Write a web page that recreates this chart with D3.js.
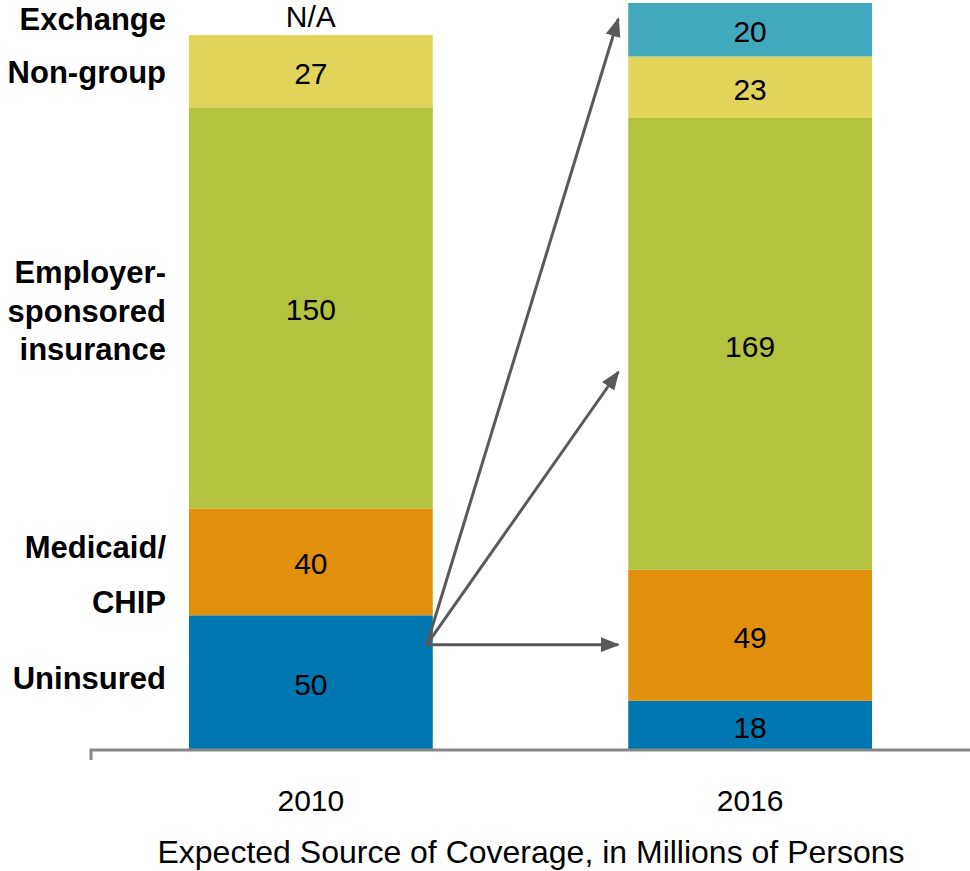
<!DOCTYPE html>
<html>
<meta charset="utf-8">
<style>
body {
  margin: 0;
  font-family: Arial, "Liberation Sans", Helvetica, sans-serif;
  background: #fff;
}
svg { display: block; }
text { font-family: Arial, "Liberation Sans", Helvetica, sans-serif; }
.seg-label { font-size: 30px; fill: #000; text-anchor: middle; }
.cat-label { font-size: 31px; font-weight: bold; fill: #000; text-anchor: end; }
.tick-label { font-size: 30px; fill: #000; text-anchor: middle; }
.title { font-size: 32px; fill: #000; text-anchor: middle; }
</style>
<body>
<script src="https://cdn.jsdelivr.net/npm/d3@7"></script>
<script>
// data
var years = ["2010", "2016"];
var sources = ["Uninsured", "Medicaid/CHIP", "Employer-sponsored insurance", "Non-group", "Exchange"];
var values2010 = [50, 40, 150, 27, 0];
var values2016 = [18, 49, 169, 23, 20];
var colors = ["#0077B0", "#E0900C", "#B3C340", "#E0D55A", "#42A8BE"];
// arrows: from 2010 uninsured (value level) to 2016 value levels
var arrowFrom = 39;
var arrowTo = [273, 141, 39];

var width = 970, height = 871;
var baseY = 749, topY = 3;

var svg = d3.select("body").append("svg")
    .attr("width", width)
    .attr("height", height);

var x = d3.scaleBand()
    .domain(years)
    .range([91, 970])
    .paddingInner(0.445)
    .paddingOuter(0.223);

var y = d3.scaleLinear()
    .domain([0, d3.sum(values2016)])
    .range([baseY, topY]);

var table = [values2010, values2016];
var stacked = years.map(function(yr, i) {
  var acc = 0;
  return table[i].map(function(v, j) {
    var s = {year: yr, name: sources[j], value: v, y0: acc, y1: acc + v, color: colors[j]};
    acc += v;
    return s;
  }).filter(function(s) { return s.value > 0; });
});
var segs = d3.merge(stacked);

// bars
svg.append("g").selectAll("rect")
    .data(segs)
    .enter().append("rect")
    .attr("x", function(d) { return x(d.year); })
    .attr("y", function(d) { return y(d.y1); })
    .attr("width", x.bandwidth())
    .attr("height", function(d) { return y(d.y0) - y(d.y1); })
    .style("fill", function(d) { return d.color; });

// values in segments
svg.append("g").selectAll("text")
    .data(segs)
    .enter().append("text")
    .attr("class", "seg-label")
    .attr("x", function(d) { return x(d.year) + x.bandwidth() / 2; })
    .attr("y", function(d) { return (y(d.y0) + y(d.y1)) / 2; })
    .attr("dy", "0.42em")
    .text(function(d) { return d.value; });

// N/A for exchange in 2010
svg.append("text")
    .attr("class", "seg-label")
    .attr("x", x("2010") + x.bandwidth() / 2)
    .attr("y", y(d3.sum(values2010)) - 8)
    .text("N/A");

// axis
var axis = d3.axisBottom(x).tickSize(0).tickSizeOuter(10).tickFormat("");
var gx = svg.append("g")
    .attr("transform", "translate(0," + (baseY + 1) + ")")
    .call(axis);
gx.select(".domain").attr("stroke", "#888").attr("stroke-width", 3)
    .attr("d", "M91,10V0H970");
gx.selectAll(".tick").remove();

svg.append("g").selectAll("text")
    .data(years)
    .enter().append("text")
    .attr("class", "tick-label")
    .attr("x", function(d) { return x(d) + x.bandwidth() / 2; })
    .attr("y", 811)
    .text(function(d) { return d; });

svg.append("text")
    .attr("class", "title")
    .attr("x", 531)
    .attr("y", 863)
    .text("Expected Source of Coverage, in Millions of Persons");

// category labels on the left
var labelLines = [
  {lines: ["Uninsured"], y: 689, gap: 0},
  {lines: ["Medicaid/", "CHIP"], y: 558, gap: 55},
  {lines: ["Employer-", "sponsored", "insurance"], y: 283, gap: 38.5},
  {lines: ["Non-group"], y: 83, gap: 0},
  {lines: ["Exchange"], y: 30, gap: 0}
];
labelLines.forEach(function(l) {
  var t = svg.append("text").attr("class", "cat-label");
  l.lines.forEach(function(s, i) {
    t.append("tspan")
      .attr("x", 166)
      .attr("y", l.y + i * l.gap)
      .text(s);
  });
});

// arrows
svg.append("defs").append("marker")
    .attr("id", "head")
    .attr("viewBox", "0 0 10 10")
    .attr("preserveAspectRatio", "none")
    .attr("refX", 9)
    .attr("refY", 5)
    .attr("markerWidth", 6.5)
    .attr("markerHeight", 5)
    .attr("markerUnits", "strokeWidth")
    .attr("orient", "auto")
    .append("path")
    .attr("d", "M0,0L10,5L0,10Z")
    .attr("fill", "#595959");

var x0 = x("2010") + x.bandwidth() - 6;
var x1 = x("2016") - 10;
svg.append("g").selectAll("line")
    .data(arrowTo)
    .enter().append("line")
    .attr("x1", x0)
    .attr("y1", y(arrowFrom))
    .attr("x2", x1)
    .attr("y2", function(d) { return y(d); })
    .attr("stroke", "#595959")
    .attr("stroke-width", 3)
    .attr("marker-end", "url(#head)");
</script>
</body>
</html>
